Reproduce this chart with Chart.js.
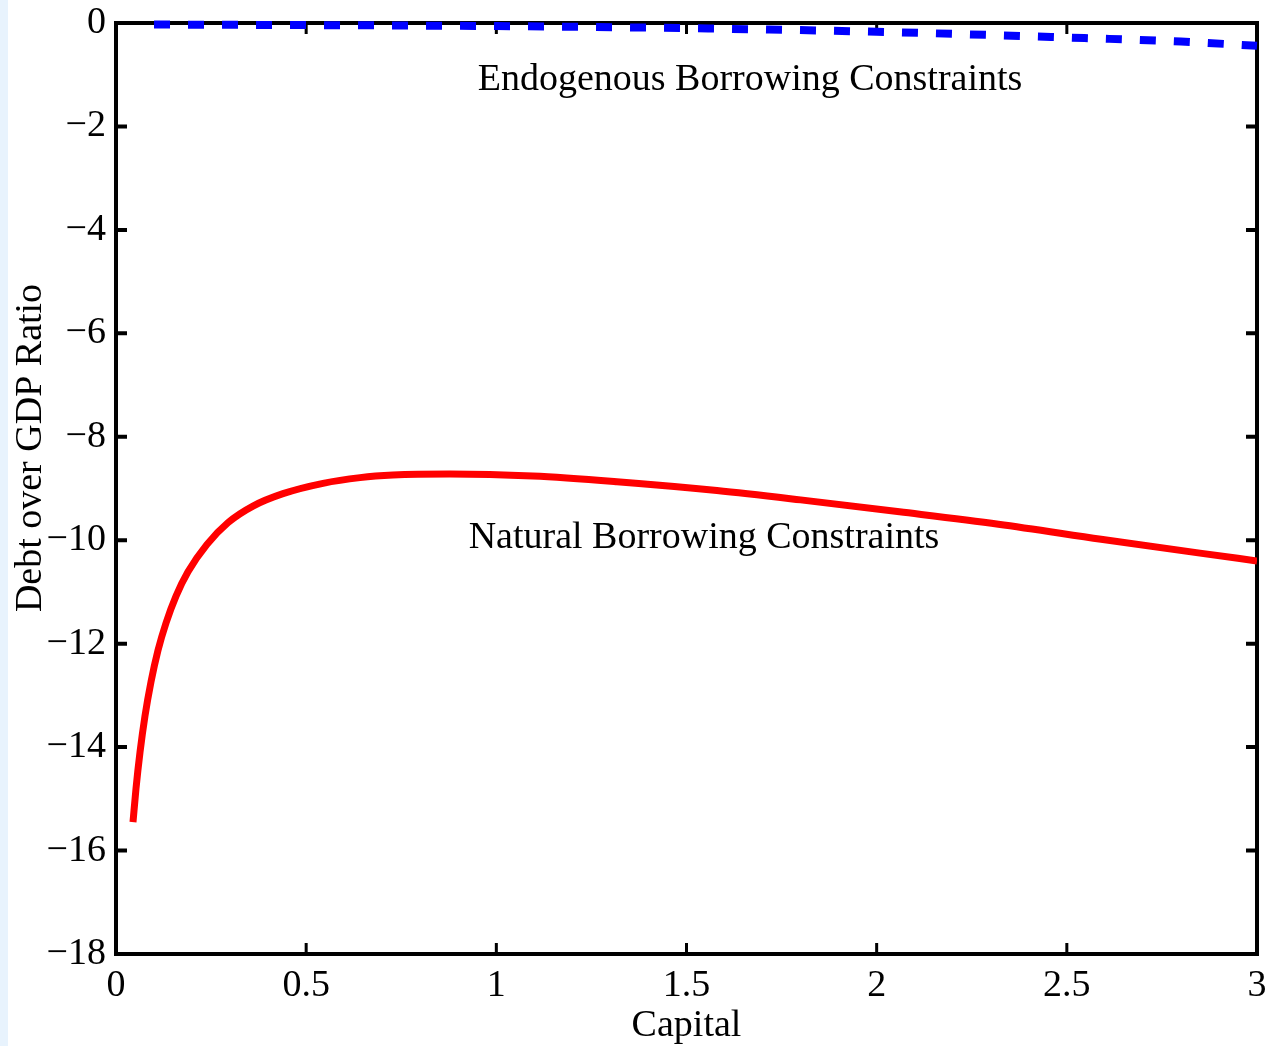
<!DOCTYPE html>
<html>
<head>
<meta charset="utf-8">
<script src="https://cdn.jsdelivr.net/npm/chart.js"></script>
<style>
  body { margin: 0; background: #fff; }
  canvas { display: block; }
</style>
</head>
<body>
<canvas id="chart" width="1270" height="1046"></canvas>
<script>
// data
const naturalX = [0.0447, 0.0526, 0.0631, 0.0762, 0.092, 0.1104, 0.1315, 0.1578, 0.1893, 0.2393, 0.2945, 0.3602, 0.4391, 0.5443, 0.6416, 0.7283, 0.878, 1.096, 1.317, 1.58, 1.8, 2.06, 2.32, 2.59, 2.85, 3.0];
const naturalY = [-15.45, -14.80, -14.10, -13.40, -12.74, -12.13, -11.60, -11.08, -10.61, -10.08, -9.66, -9.34, -9.10, -8.90, -8.79, -8.74, -8.72, -8.76, -8.87, -9.04, -9.22, -9.45, -9.69, -9.98, -10.25, -10.4];
const endogX = [0.1, 0.5, 1.0, 1.5, 2.0, 2.5, 2.8, 3.0];
const endogY = [-0.03, -0.04, -0.06, -0.1, -0.17, -0.28, -0.36, -0.44];
const xTicks = [0, 0.5, 1, 1.5, 2, 2.5, 3];
const yTicks = [0, -2, -4, -6, -8, -10, -12, -14, -16, -18];

const FONT = "'Liberation Serif', 'Times New Roman', serif";

function points(xs, ys) {
  return xs.map((x, i) => ({ x: x, y: ys[i] }));
}

// frame, inward ticks, text labels
const decorations = {
  id: "decorations",
  beforeDraw(chart) {
    const ctx = chart.ctx;
    ctx.save();
    ctx.fillStyle = "#ffffff";
    ctx.fillRect(0, 0, chart.width, chart.height);
    ctx.fillStyle = "#e8f3fd";
    ctx.fillRect(0, 0, 8, chart.height);
    ctx.restore();
  },
  beforeDatasetsDraw(chart) {
    const ctx = chart.ctx;
    const a = chart.chartArea;
    const xs = chart.scales.x, ys = chart.scales.y;
    ctx.save();
    ctx.strokeStyle = "#000";
    ctx.lineWidth = 4;
    ctx.strokeRect(a.left, a.top, a.right - a.left, a.bottom - a.top);
    yTicks.forEach(v => {
      const p = ys.getPixelForValue(v);
      ctx.beginPath();
      ctx.moveTo(a.left, p); ctx.lineTo(a.left + 11, p);
      ctx.moveTo(a.right, p); ctx.lineTo(a.right - 11, p);
      ctx.stroke();
    });
    ctx.lineWidth = 3;
    xTicks.forEach(v => {
      const p = xs.getPixelForValue(v);
      ctx.beginPath();
      ctx.moveTo(p, a.bottom); ctx.lineTo(p, a.bottom - 11);
      ctx.moveTo(p, a.top); ctx.lineTo(p, a.top + 11);
      ctx.stroke();
    });
    ctx.restore();
  },
  afterDraw(chart) {
    const ctx = chart.ctx;
    const xs = chart.scales.x, ys = chart.scales.y;
    ctx.save();
    ctx.fillStyle = "#000";
    ctx.font = "38px " + FONT;
    ctx.textAlign = "center";
    ctx.textBaseline = "alphabetic";
    ctx.fillText("Endogenous Borrowing Constraints", xs.getPixelForValue(1.667), ys.getPixelForValue(-1.29));
    ctx.fillText("Natural Borrowing Constraints", xs.getPixelForValue(1.546), ys.getPixelForValue(-10.15));
    // y axis title, sits a bit above the middle in the original
    ctx.translate(31, 448);
    ctx.rotate(-Math.PI / 2);
    ctx.textBaseline = "middle";
    ctx.fillText("Debt over GDP Ratio", 0, 0);
    ctx.restore();
  }
};

function noPad(scale) {
  scale.paddingLeft = 0; scale.paddingRight = 0;
  scale.paddingTop = 0; scale.paddingBottom = 0;
}

new Chart(document.getElementById("chart"), {
  type: "line",
  data: {
    datasets: [
      {
        label: "Endogenous Borrowing Constraints",
        data: points(endogX, endogY),
        borderColor: "#0000ff",
        borderWidth: 8,
        borderDash: [16, 18],
        pointRadius: 0,
        cubicInterpolationMode: "monotone",
        clip: false
      },
      {
        label: "Natural Borrowing Constraints",
        data: points(naturalX, naturalY),
        borderColor: "#ff0000",
        borderWidth: 7,
        pointRadius: 0,
        cubicInterpolationMode: "monotone"
      }
    ]
  },
  options: {
    responsive: false,
    animation: false,
    layout: { padding: { top: 23, right: 13, left: 0, bottom: 0 } },
    plugins: { legend: { display: false }, tooltip: { enabled: false } },
    scales: {
      x: {
        type: "linear",
        min: 0, max: 3,
        afterBuildTicks(scale) { scale.ticks = xTicks.map(v => ({ value: v })); },
        afterFit(scale) { scale.height = 92; noPad(scale); },
        grid: { display: false, drawTicks: false },
        border: { display: false },
        ticks: {
          padding: 9, color: "#000",
          font: { family: FONT, size: 38 },
          callback: v => String(v)
        },
        title: {
          display: true, text: "Capital", color: "#000",
          padding: { top: 0, bottom: -3 },
          font: { family: FONT, size: 38 }
        }
      },
      y: {
        min: -18, max: 0,
        afterBuildTicks(scale) { scale.ticks = yTicks.map(v => ({ value: v })); },
        afterFit(scale) { scale.width = 116; noPad(scale); },
        grid: { display: false, drawTicks: false },
        border: { display: false },
        ticks: {
          padding: 10, color: "#000",
          font: { family: FONT, size: 38 },
          callback: v => String(v).replace("-", "\u2212")
        }
      }
    }
  },
  plugins: [decorations]
});
</script>
</body>
</html>
